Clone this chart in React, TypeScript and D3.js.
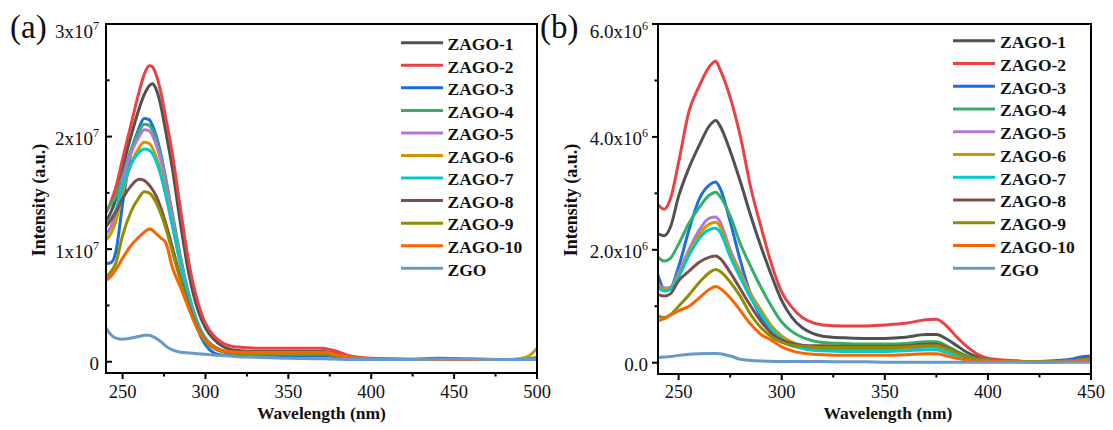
import React from 'react';
import * as d3 from 'd3';

// ---------- shared ----------
const seriesNames = ['ZAGO-1', 'ZAGO-2', 'ZAGO-3', 'ZAGO-4', 'ZAGO-5', 'ZAGO-6', 'ZAGO-7', 'ZAGO-8', 'ZAGO-9', 'ZAGO-10', 'ZGO'];
const seriesColors = ['#515151', '#EC4143', '#1A6FDF', '#37AD6B', '#B177DE', '#CC9900', '#00CBCC', '#7D4E4E', '#8E8E00', '#FB6501', '#6699CC'];

// ---------- panel (a): intensity in units of 1e7 ----------
const wavelengthA = [240, 243, 246, 250, 255, 260, 263, 266, 268, 270, 273, 276, 280, 285, 290, 295, 300, 305, 310, 315, 320, 330, 340, 350, 360, 370, 375, 380, 385, 390, 400, 420, 440, 460, 480, 490, 495, 500];
const zago1A = [1.25, 1.33, 1.45, 1.72, 2.0, 2.25, 2.37, 2.45, 2.47, 2.43, 2.28, 2.05, 1.72, 1.22, 0.78, 0.48, 0.3, 0.2, 0.14, 0.11, 0.1, 0.09, 0.09, 0.09, 0.09, 0.09, 0.085, 0.07, 0.05, 0.035, 0.025, 0.02, 0.02, 0.02, 0.02, 0.02, 0.02, 0.025];
const zago2A = [1.32, 1.42, 1.55, 1.8, 2.1, 2.4, 2.55, 2.63, 2.62, 2.56, 2.4, 2.17, 1.85, 1.35, 0.88, 0.55, 0.34, 0.23, 0.17, 0.14, 0.13, 0.12, 0.12, 0.12, 0.12, 0.12, 0.11, 0.09, 0.06, 0.045, 0.03, 0.025, 0.02, 0.02, 0.02, 0.02, 0.025, 0.03];
const zago3A = [0.87, 0.88, 0.98, 1.4, 1.85, 2.08, 2.16, 2.15, 2.1, 2.02, 1.85, 1.62, 1.3, 0.9, 0.55, 0.3, 0.15, 0.08, 0.06, 0.055, 0.05, 0.05, 0.05, 0.05, 0.05, 0.05, 0.05, 0.04, 0.035, 0.03, 0.02, 0.02, 0.03, 0.025, 0.02, 0.02, 0.025, 0.03];
const zago4A = [1.35, 1.4, 1.47, 1.65, 1.88, 2.05, 2.11, 2.1, 2.06, 1.99, 1.84, 1.63, 1.32, 0.93, 0.6, 0.36, 0.21, 0.14, 0.1, 0.085, 0.08, 0.075, 0.075, 0.075, 0.075, 0.075, 0.07, 0.055, 0.045, 0.035, 0.025, 0.02, 0.02, 0.02, 0.02, 0.02, 0.02, 0.025];
const zago5A = [1.13, 1.2, 1.32, 1.6, 1.85, 2.0, 2.06, 2.05, 2.01, 1.94, 1.79, 1.59, 1.29, 0.9, 0.58, 0.35, 0.2, 0.13, 0.095, 0.08, 0.075, 0.07, 0.07, 0.07, 0.07, 0.07, 0.065, 0.05, 0.04, 0.03, 0.02, 0.02, 0.02, 0.02, 0.02, 0.02, 0.02, 0.025];
const zago6A = [1.08, 1.14, 1.25, 1.5, 1.75, 1.9, 1.95, 1.94, 1.9, 1.83, 1.69, 1.5, 1.22, 0.86, 0.56, 0.34, 0.2, 0.13, 0.095, 0.08, 0.075, 0.07, 0.07, 0.07, 0.07, 0.07, 0.065, 0.05, 0.04, 0.03, 0.02, 0.02, 0.02, 0.02, 0.02, 0.03, 0.05, 0.12];
const zago7A = [1.23, 1.27, 1.35, 1.55, 1.75, 1.86, 1.89, 1.88, 1.85, 1.79, 1.66, 1.48, 1.21, 0.86, 0.56, 0.34, 0.2, 0.13, 0.095, 0.08, 0.075, 0.07, 0.07, 0.07, 0.07, 0.07, 0.065, 0.05, 0.04, 0.03, 0.02, 0.02, 0.02, 0.02, 0.02, 0.02, 0.02, 0.025];
const zago8A = [1.2, 1.26, 1.33, 1.45, 1.56, 1.62, 1.61, 1.57, 1.53, 1.48, 1.37, 1.23, 1.02, 0.74, 0.5, 0.31, 0.19, 0.13, 0.095, 0.08, 0.075, 0.07, 0.07, 0.07, 0.07, 0.07, 0.065, 0.05, 0.04, 0.03, 0.02, 0.02, 0.02, 0.02, 0.02, 0.02, 0.02, 0.025];
const zago9A = [0.75, 0.8, 0.88, 1.12, 1.33, 1.46, 1.51, 1.5, 1.47, 1.42, 1.32, 1.19, 0.98, 0.72, 0.48, 0.3, 0.18, 0.12, 0.09, 0.08, 0.075, 0.07, 0.07, 0.07, 0.07, 0.07, 0.065, 0.05, 0.04, 0.03, 0.02, 0.02, 0.02, 0.02, 0.02, 0.02, 0.025, 0.04];
const zago10A = [0.72, 0.76, 0.82, 0.92, 1.03, 1.11, 1.15, 1.18, 1.17, 1.14, 1.1, 1.06, 0.84, 0.66, 0.47, 0.3, 0.19, 0.13, 0.1, 0.09, 0.085, 0.085, 0.085, 0.085, 0.085, 0.085, 0.08, 0.06, 0.045, 0.035, 0.025, 0.02, 0.02, 0.02, 0.02, 0.02, 0.02, 0.025];
const zgoA = [0.3, 0.24, 0.21, 0.2, 0.21, 0.225, 0.235, 0.235, 0.225, 0.21, 0.18, 0.14, 0.105, 0.085, 0.078, 0.072, 0.066, 0.06, 0.055, 0.05, 0.045, 0.04, 0.035, 0.03, 0.028, 0.026, 0.025, 0.022, 0.02, 0.02, 0.02, 0.02, 0.025, 0.025, 0.02, 0.02, 0.02, 0.02];
const xTicksA = [250, 300, 350, 400, 450, 500];
const xMinorA = [275, 325, 375, 425, 475];
const yTicksA = [0, 1e7, 2e7, 3e7];
const yMinorA = [0.5e7, 1.5e7, 2.5e7];
const yTickBaseA = ['0', '1x10', '2x10', '3x10'];
const yTickSupA = ['', '7', '7', '7'];

// ---------- panel (b): intensity in units of 1e6 ----------
const wavelengthB = [240, 243, 246, 250, 255, 260, 265, 268, 270, 275, 280, 285, 290, 295, 300, 305, 310, 315, 320, 330, 340, 350, 360, 370, 375, 380, 385, 390, 395, 400, 410, 420, 430, 440, 445, 450];
const zago1B = [2.28, 2.25, 2.4, 2.95, 3.45, 3.85, 4.2, 4.29, 4.2, 3.75, 3.2, 2.6, 2.05, 1.55, 1.1, 0.8, 0.62, 0.52, 0.47, 0.44, 0.43, 0.43, 0.45, 0.5, 0.5, 0.42, 0.3, 0.18, 0.1, 0.06, 0.03, 0.02, 0.02, 0.04, 0.08, 0.1];
const zago2B = [2.8, 2.72, 2.9, 3.55, 4.45, 4.9, 5.25, 5.34, 5.2, 4.7, 4.0, 3.1, 2.4, 1.75, 1.25, 0.98, 0.8, 0.71, 0.67, 0.65, 0.65, 0.67, 0.7, 0.76, 0.77, 0.65, 0.45, 0.28, 0.15, 0.08, 0.04, 0.02, 0.02, 0.03, 0.06, 0.08];
const zago3B = [1.55, 1.32, 1.33, 1.7, 2.35, 2.9, 3.15, 3.2, 3.1, 2.5, 1.8, 1.2, 0.8, 0.52, 0.37, 0.3, 0.27, 0.26, 0.25, 0.25, 0.25, 0.25, 0.26, 0.28, 0.28, 0.22, 0.15, 0.09, 0.05, 0.03, 0.02, 0.02, 0.03, 0.06, 0.1, 0.12];
const zago4B = [1.87, 1.8, 1.85, 2.1, 2.47, 2.75, 2.97, 3.02, 2.95, 2.6, 2.1, 1.7, 1.33, 1.0, 0.72, 0.55, 0.45, 0.39, 0.36, 0.34, 0.33, 0.33, 0.34, 0.37, 0.37, 0.3, 0.2, 0.12, 0.07, 0.05, 0.03, 0.02, 0.02, 0.03, 0.05, 0.07];
const zago5B = [1.4, 1.32, 1.33, 1.6, 2.0, 2.35, 2.56, 2.58, 2.5, 2.0, 1.6, 1.22, 0.93, 0.65, 0.47, 0.36, 0.3, 0.28, 0.27, 0.26, 0.26, 0.26, 0.27, 0.29, 0.29, 0.23, 0.15, 0.09, 0.05, 0.03, 0.02, 0.02, 0.02, 0.03, 0.05, 0.06];
const zago6B = [1.35, 1.3, 1.32, 1.55, 1.95, 2.27, 2.46, 2.49, 2.42, 1.95, 1.57, 1.2, 0.92, 0.65, 0.47, 0.36, 0.3, 0.28, 0.27, 0.26, 0.26, 0.26, 0.27, 0.29, 0.29, 0.23, 0.15, 0.09, 0.05, 0.03, 0.02, 0.02, 0.02, 0.03, 0.05, 0.06];
const zago7B = [1.33, 1.27, 1.3, 1.52, 1.9, 2.2, 2.36, 2.38, 2.32, 1.88, 1.5, 1.14, 0.86, 0.6, 0.42, 0.31, 0.25, 0.22, 0.21, 0.2, 0.2, 0.2, 0.21, 0.23, 0.23, 0.18, 0.12, 0.07, 0.04, 0.03, 0.02, 0.02, 0.02, 0.03, 0.05, 0.06];
const zago8B = [1.21, 1.18, 1.22, 1.45, 1.62, 1.78, 1.87, 1.89, 1.85, 1.6, 1.3, 1.0, 0.73, 0.52, 0.4, 0.34, 0.31, 0.3, 0.3, 0.29, 0.29, 0.29, 0.3, 0.33, 0.33, 0.27, 0.18, 0.1, 0.06, 0.04, 0.03, 0.02, 0.02, 0.03, 0.05, 0.07];
const zago9B = [0.83, 0.8, 0.85, 1.0, 1.2, 1.42, 1.6, 1.65, 1.62, 1.43, 1.17, 0.85, 0.62, 0.46, 0.36, 0.31, 0.29, 0.28, 0.27, 0.27, 0.27, 0.27, 0.28, 0.3, 0.3, 0.25, 0.17, 0.1, 0.06, 0.04, 0.03, 0.02, 0.02, 0.03, 0.05, 0.06];
const zago10B = [0.74, 0.78, 0.84, 0.92, 1.0, 1.15, 1.3, 1.35, 1.32, 1.15, 0.92, 0.68, 0.5, 0.4, 0.28, 0.21, 0.17, 0.15, 0.14, 0.13, 0.13, 0.13, 0.14, 0.16, 0.16, 0.12, 0.08, 0.05, 0.03, 0.02, 0.02, 0.01, 0.01, 0.02, 0.04, 0.05];
const zgoB = [0.09, 0.1, 0.11, 0.13, 0.15, 0.16, 0.165, 0.165, 0.16, 0.12, 0.06, 0.04, 0.03, 0.025, 0.02, 0.02, 0.02, 0.02, 0.02, 0.015, 0.015, 0.01, 0.01, 0.01, 0.01, 0.01, 0.01, 0.01, 0.01, 0.01, 0.01, 0.01, 0.01, 0.01, 0.01, 0.01];
const xTicksB = [250, 300, 350, 400, 450];
const xMinorB = [275, 325, 375, 425];
const yTicksB = [0, 2e6, 4e6, 6e6];
const yMinorB = [1e6, 3e6, 5e6];
const yTickBaseB = ['0.0', '2.0x10', '4.0x10', '6.0x10'];
const yTickSupB = ['', '6', '6', '6'];

const FONT = "'Liberation Serif', 'Times New Roman', Times, serif";

type PanelProps = {
  id: string;
  left: number; right: number; top: number; bottom: number;
  xDomain: [number, number]; yDomain: [number, number];
  wl: number[]; series: number[][]; unit: number;
  xTicks: number[]; xMinor: number[];
  yTicks: number[]; yMinor: number[]; yBase: string[]; ySup: string[];
  yTickIn: boolean; yLabelRight: number;
  yTitleX: number; xTitleX: number;
  legendX1: number; legendX2: number; legendTextX: number; legendY0: number; legendDy: number;
  panelLabel: string; panelLabelX: number;
};

function Panel(p: PanelProps) {
  const x = d3.scaleLinear().domain(p.xDomain).range([p.left, p.right]);
  const y = d3.scaleLinear().domain(p.yDomain).range([p.bottom, p.top]);
  const line = d3.line<number>()
    .x((_, i) => x(p.wl[i]))
    .y((d) => y(d * p.unit))
    .curve(d3.curveMonotoneX);
  const ySign = p.yTickIn ? 1 : -1;
  const clipId = 'clip-' + p.id;
  return (
    <g>
      <defs>
        <clipPath id={clipId}>
          <rect x={p.left} y={p.top} width={p.right - p.left} height={p.bottom - p.top} />
        </clipPath>
      </defs>
      <g clipPath={`url(#${clipId})`}>
        {p.series.map((s, i) => (
          <path key={i} d={line(s) || ''} fill="none" stroke={seriesColors[i]} strokeWidth={3} strokeLinejoin="round" />
        ))}
      </g>
      <rect x={p.left} y={p.top} width={p.right - p.left} height={p.bottom - p.top} fill="none" stroke="#000" strokeWidth={2} />
      {p.xTicks.map((t) => (
        <g key={'xt' + t}>
          <line x1={x(t)} x2={x(t)} y1={p.bottom} y2={p.bottom + 6} stroke="#000" strokeWidth={2} />
          <text x={x(t)} y={398} textAnchor="middle" fontFamily={FONT} fontSize={18.5} fill="#111">{t}</text>
        </g>
      ))}
      {p.xMinor.map((t) => (
        <line key={'xm' + t} x1={x(t)} x2={x(t)} y1={p.bottom} y2={p.bottom + 3.5} stroke="#000" strokeWidth={2} />
      ))}
      {p.yTicks.map((t, i) => (
        <g key={'yt' + t}>
          <line x1={p.left} x2={p.left + ySign * 6} y1={y(t)} y2={y(t)} stroke="#000" strokeWidth={2} />
          <text x={p.yLabelRight} y={Math.max(y(t) + 8.5, p.top + 14)} textAnchor="end" fontFamily={FONT} fontSize={19} fill="#111">
            {p.yBase[i]}
            {p.ySup[i] ? <tspan fontSize={12} dy={-8}>{p.ySup[i]}</tspan> : null}
          </text>
        </g>
      ))}
      {p.yMinor.map((t) => (
        <line key={'ym' + t} x1={p.left} x2={p.left + ySign * 3.5} y1={y(t)} y2={y(t)} stroke="#000" strokeWidth={2} />
      ))}
      <text x={p.xTitleX} y={419} textAnchor="middle" fontFamily={FONT} fontWeight="bold" fontSize={17.5} fill="#111">Wavelength (nm)</text>
      <text transform={`translate(${p.yTitleX},200) rotate(-90)`} textAnchor="middle" fontFamily={FONT} fontWeight="bold" fontSize={18} fill="#111">Intensity (a.u.)</text>
      {seriesNames.map((n, i) => {
        const ly = p.legendY0 + i * p.legendDy;
        return (
          <g key={'lg' + n}>
            <line x1={p.legendX1} x2={p.legendX2} y1={ly} y2={ly} stroke={seriesColors[i]} strokeWidth={3} />
            <text x={p.legendTextX} y={ly + 7.3} fontFamily={FONT} fontWeight="bold" fontSize={17.5} fill="#111">{n}</text>
          </g>
        );
      })}
      <text x={p.panelLabelX} y={37.5} fontFamily={FONT} fontSize={33} fill="#111">{p.panelLabel}</text>
    </g>
  );
}

export default function App() {
  const seriesA = [zago1A, zago2A, zago3A, zago4A, zago5A, zago6A, zago7A, zago8A, zago9A, zago10A, zgoA];
  const seriesB = [zago1B, zago2B, zago3B, zago4B, zago5B, zago6B, zago7B, zago8B, zago9B, zago10B, zgoB];
  return (
    <svg width={1113} height={430} style={{ position: 'absolute', left: 0, top: 0, background: '#fff' }}>
      <rect x={0} y={0} width={1113} height={430} fill="#fff" />
      <Panel
        id="a" left={106} right={537} top={24} bottom={373}
        xDomain={[240, 500]} yDomain={[-0.1e7, 3e7]}
        wl={wavelengthA} series={seriesA} unit={1e7}
        xTicks={xTicksA} xMinor={xMinorA}
        yTicks={yTicksA} yMinor={yMinorA} yBase={yTickBaseA} ySup={yTickSupA}
        yTickIn={true} yLabelRight={99}
        yTitleX={45} xTitleX={321.5}
        legendX1={401} legendX2={443} legendTextX={447.5} legendY0={42.7} legendDy={22.56}
        panelLabel="(a)" panelLabelX={10}
      />
      <Panel
        id="b" left={658} right={1091} top={24} bottom={374}
        xDomain={[240, 450]} yDomain={[-0.2e6, 6e6]}
        wl={wavelengthB} series={seriesB} unit={1e6}
        xTicks={xTicksB} xMinor={xMinorB}
        yTicks={yTicksB} yMinor={yMinorB} yBase={yTickBaseB} ySup={yTickSupB}
        yTickIn={false} yLabelRight={648}
        yTitleX={576.5} xTitleX={888}
        legendX1={953} legendX2={995} legendTextX={1000} legendY0={40.7} legendDy={22.76}
        panelLabel="(b)" panelLabelX={540}
      />
    </svg>
  );
}
